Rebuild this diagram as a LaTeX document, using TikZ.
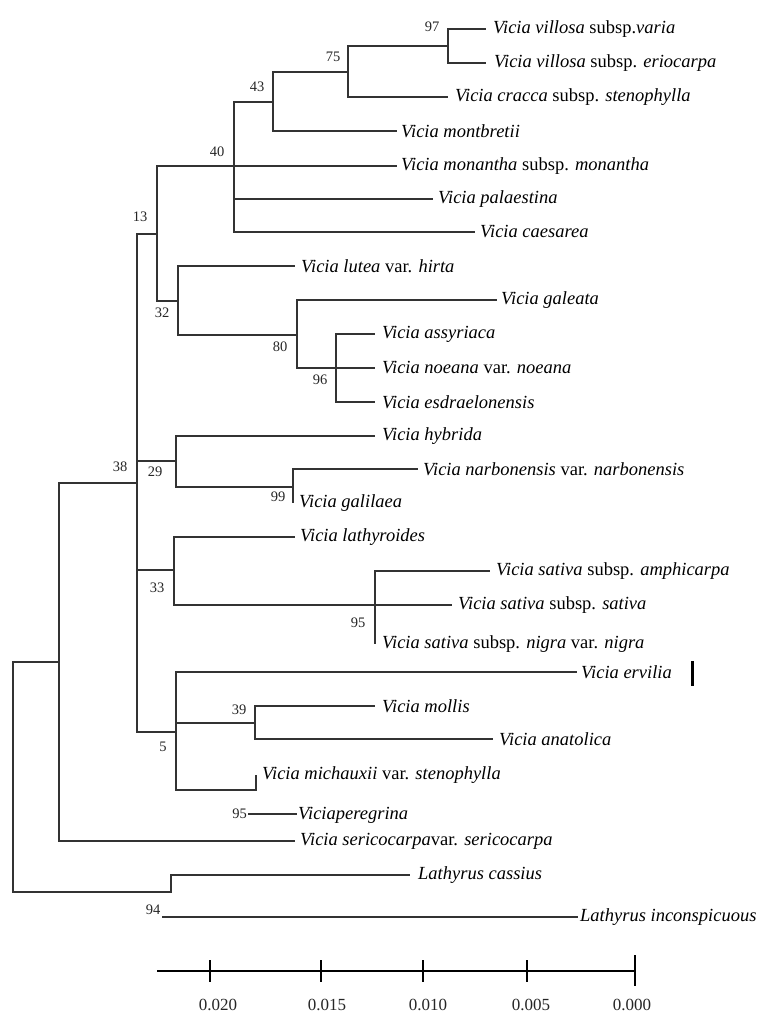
\documentclass[tikz,border=0pt]{standalone}
\usepackage{fontspec}
\setmainfont{Liberation Serif}
\usetikzlibrary{positioning}

\tikzset{
  branch/.style={draw=black!80, line width=1.4pt},
  taxon/.style={inner sep=0pt, font=\fontsize{18.5}{20}\selectfont},
  boot/.style={inner sep=0pt, font=\fontsize{14.5}{16}\selectfont, text=black!85},
  scalelab/.style={inner sep=0pt, font=\fontsize{17}{18}\selectfont, text=black!85},
  scaletick/.style={draw=black, line width=1.2pt},
}

\begin{document}
\begin{tikzpicture}[x=1pt, y=-1pt]
  \useasboundingbox (0,0) rectangle (765,1019);

  % internal nodes
  \coordinate (root) at (13,777);
  \coordinate (n59)  at (59,662);
  \coordinate (n38)  at (137,483);
  \coordinate (n13)  at (157,234);
  \coordinate (n40)  at (234,166);
  \coordinate (n43)  at (273,102);
  \coordinate (n75)  at (348,72);
  \coordinate (n97)  at (448,46);
  \coordinate (n32)  at (178,301);
  \coordinate (n80)  at (297,335);
  \coordinate (n96)  at (336,368);
  \coordinate (n29)  at (176,461);
  \coordinate (n99)  at (293,487);
  \coordinate (n33)  at (174,570);
  \coordinate (n95)  at (375,605);
  \coordinate (n5)   at (176,732);
  \coordinate (n39)  at (255,723);
  \coordinate (n95b) at (256,790);
  \coordinate (n94)  at (171,892);

  % leaf ends
  \coordinate (varia)      at (486,29);
  \coordinate (eriocarpa)  at (486,63);
  \coordinate (cracca)     at (448,97);
  \coordinate (montbretii) at (397,131);
  \coordinate (monantha)   at (397,166);
  \coordinate (palaestina) at (433,199);
  \coordinate (caesarea)   at (475,232);
  \coordinate (lutea)      at (295,266);
  \coordinate (galeata)    at (497,300);
  \coordinate (assyriaca)  at (375,334);
  \coordinate (noeana)     at (375,368);
  \coordinate (esdrael)    at (375,402);
  \coordinate (hybrida)    at (375,436);
  \coordinate (narbon)     at (418,469);
  \coordinate (galilaea)   at (293,503);
  \coordinate (lathyr)     at (295,537);
  \coordinate (amphic)     at (490,571);
  \coordinate (sativa)     at (452,605);
  \coordinate (nigra)      at (375,644);
  \coordinate (ervilia)    at (577,672);
  \coordinate (mollis)     at (375,706);
  \coordinate (anatol)     at (493,739);
  \coordinate (michaux)    at (256,775);
  \coordinate (peregA)     at (248,814);
  \coordinate (peregB)     at (297,814);
  \coordinate (sericoc)    at (295,841);
  \coordinate (cassius)    at (410,875);
  \coordinate (inconA)     at (162,917);
  \coordinate (inconB)     at (578,917);

  % branches
  \draw[branch] (root) |- (n59);
  \draw[branch] (root) |- (n94) |- (cassius);
  \draw[branch] (n59) |- (n38);
  \draw[branch] (n59) |- (sericoc);
  \draw[branch] (n38) |- (n13);
  \draw[branch] (n38) |- (n29);
  \draw[branch] (n38) |- (n33);
  \draw[branch] (n38) |- (n5);
  \draw[branch] (n13) |- (n40);
  \draw[branch] (n13) |- (n32);
  \draw[branch] (n40) |- (n43);
  \draw[branch] (n40) |- (monantha);
  \draw[branch] (n40) |- (palaestina);
  \draw[branch] (n40) |- (caesarea);
  \draw[branch] (n43) |- (n75);
  \draw[branch] (n43) |- (montbretii);
  \draw[branch] (n75) |- (n97);
  \draw[branch] (n75) |- (cracca);
  \draw[branch] (n97) |- (varia);
  \draw[branch] (n97) |- (eriocarpa);
  \draw[branch] (n32) |- (lutea);
  \draw[branch] (n32) |- (n80);
  \draw[branch] (n80) |- (galeata);
  \draw[branch] (n80) |- (n96);
  \draw[branch] (n96) |- (assyriaca);
  \draw[branch] (n96) |- (noeana);
  \draw[branch] (n96) |- (esdrael);
  \draw[branch] (n29) |- (hybrida);
  \draw[branch] (n29) |- (n99);
  \draw[branch] (n99) |- (narbon);
  \draw[branch] (n99) |- (galilaea);
  \draw[branch] (n33) |- (lathyr);
  \draw[branch] (n33) |- (n95);
  \draw[branch] (n95) |- (amphic);
  \draw[branch] (n95) |- (sativa);
  \draw[branch] (n95) |- (nigra);
  \draw[branch] (n5) |- (ervilia);
  \draw[branch] (n5) |- (n39);
  \draw[branch] (n5) |- (n95b) -- (michaux);
  \draw[branch] (n39) |- (mollis);
  \draw[branch] (n39) |- (anatol);
  \draw[branch] (peregA) -- (peregB);
  \draw[branch] (inconA) -- (inconB);

  % taxa
  \node[taxon, right=7pt of varia] (t-varia) {\textit{Vicia villosa} subsp.\textit{varia}};
  \node[taxon, right=8pt of eriocarpa] (t-eriocarpa) {\textit{Vicia villosa} subsp. \textit{eriocarpa}};
  \node[taxon, right=7pt of cracca] (t-cracca) {\textit{Vicia cracca} subsp. \textit{stenophylla}};
  \node[taxon, right=4pt of montbretii] (t-montbretii) {\textit{Vicia montbretii}};
  \node[taxon, right=4pt of monantha] (t-monantha) {\textit{Vicia monantha} subsp. \textit{monantha}};
  \node[taxon, right=5pt of palaestina] (t-palaestina) {\textit{Vicia palaestina}};
  \node[taxon, right=5pt of caesarea] (t-caesarea) {\textit{Vicia caesarea}};
  \node[taxon, right=6pt of lutea] (t-lutea) {\textit{Vicia lutea} var. \textit{hirta}};
  \node[taxon, right=4pt of galeata] (t-galeata) {\textit{Vicia galeata}};
  \node[taxon, right=7pt of assyriaca] (t-assyriaca) {\textit{Vicia assyriaca}};
  \node[taxon, right=7pt of noeana] (t-noeana) {\textit{Vicia noeana} var. \textit{noeana}};
  \node[taxon, right=7pt of esdrael] (t-esdrael) {\textit{Vicia esdraelonensis}};
  \node[taxon, right=7pt of hybrida] (t-hybrida) {\textit{Vicia hybrida}};
  \node[taxon, right=5pt of narbon] (t-narbon) {\textit{Vicia narbonensis} var. \textit{narbonensis}};
  \node[taxon, right=6pt of galilaea] (t-galilaea) {\textit{Vicia galilaea}};
  \node[taxon, right=5pt of lathyr] (t-lathyr) {\textit{Vicia lathyroides}};
  \node[taxon, right=6pt of amphic] (t-amphic) {\textit{Vicia sativa} subsp. \textit{amphicarpa}};
  \node[taxon, right=6pt of sativa] (t-sativa) {\textit{Vicia sativa} subsp. \textit{sativa}};
  \node[taxon, right=7pt of nigra] (t-nigra) {\textit{Vicia sativa} subsp. \textit{nigra} var. \textit{nigra}};
  \node[taxon, right=4pt of ervilia] (t-ervilia) {\textit{Vicia ervilia}};
  \node[taxon, right=7pt of mollis] (t-mollis) {\textit{Vicia mollis}};
  \node[taxon, right=6pt of anatol] (t-anatol) {\textit{Vicia anatolica}};
  \node[taxon, right=6pt of michaux] (t-michaux) {\textit{Vicia michauxii} var. \textit{stenophylla}};
  \node[taxon, above right=-10pt and 1pt of peregB] (t-pereg) {\textit{Viciaperegrina}};
  \node[taxon, right=5pt of sericoc] (t-sericoc) {\textit{Vicia sericocarpa}var. \textit{sericocarpa}};
  \node[taxon, right=8pt of cassius] (t-cassius) {\textit{Lathyrus cassius}};
  \node[taxon, above right=-9pt and 2pt of inconB] (t-incon) {\textit{Lathyrus inconspicuous}};

  % mark beside ervilia
  \draw[line width=3pt] (692,661) -- (692,686);

  % bootstrap values
  \node[boot] (b97)  at (432,27)  {97};
  \node[boot] (b75)  at (333,57)  {75};
  \node[boot] (b43)  at (257,87)  {43};
  \node[boot] (b40)  at (217,152) {40};
  \node[boot] (b13)  at (140,217) {13};
  \node[boot] (b32)  at (162,313) {32};
  \node[boot] (b80)  at (280,347) {80};
  \node[boot] (b96)  at (320,380) {96};
  \node[boot] (b38)  at (120,467) {38};
  \node[boot] (b29)  at (155,472) {29};
  \node[boot] (b99)  at (278,497) {99};
  \node[boot] (b33)  at (157,588) {33};
  \node[boot] (b95)  at (358,623) {95};
  \node[boot] (b39)  at (239,710) {39};
  \node[boot] (b5)   at (163,747) {5};
  \node[boot, left=1pt of peregA] (b95p) {95};
  \node[boot] (b94)  at (153,910) {94};

  % scale bar
  \coordinate (sbA) at (157,971);
  \coordinate (sbB) at (635,971);
  \draw[scaletick] (sbA) -- (sbB);
  \foreach \x/\dx/\lab in {210/8/0.020, 321/6/0.015, 423/5/0.010, 527/4/0.005} {
    \draw[scaletick] (\x,960) -- (\x,982);
    \node[scalelab] at (\x+\dx,1005) {\lab};
  }
  \draw[scaletick] (635,955) -- (635,986);
  \node[scalelab] (s0) at (632,1005) {0.000};
\end{tikzpicture}
\end{document}
